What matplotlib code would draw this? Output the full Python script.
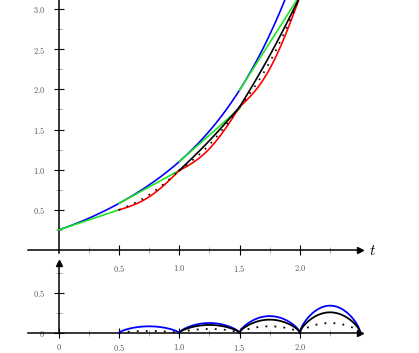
import numpy as np
import matplotlib.pyplot as plt
from numpy.polynomial import polynomial as P

plt.rcParams['mathtext.fontset'] = 'cm'

# step size and grid of the numerical scheme
h = 0.5
t_nodes = [0.0, 0.5, 1.0, 1.5, 2.0]
y_nodes = [0.25, 0.5, 0.99, 1.78, 3.15]

# exact solution (ascending polynomial coefficients)
exact_coeffs = [0.25, 0.5, 0.35, -0.12, 0.12]

# local errors per step (lower panel)
step_starts = [0.5, 1.0, 1.5, 2.0]
err_blue = [0.083, 0.124, 0.21, 0.34]
err_black = [0.0, 0.10, 0.166, 0.257]
err_dot = [0.025, 0.05, 0.083, 0.124]

# tick labels
top_xticks = [0.5, 1.0, 1.5, 2.0]
top_xlabels = ['0.5', '1.0', '1.5', '2.0']
top_yticks = [0.5, 1.0, 1.5, 2.0, 2.5, 3.0]
top_ylabels = ['0.5', '1.0', '1.5', '2.0', '2.5', '3.0']
bot_xticks = [0, 0.5, 1.0, 1.5, 2.0]
bot_xlabels = ['0', '0.5', '1.0', '1.5', '2.0']
bot_yticks = [0, 0.5]
bot_ylabels = ['0', '0.5']

BLUE, GREEN, RED = '#0000ff', '#1ee61e', '#ff0000'
LBL = '#555555'
DOTS = (0, (1, 4))


def tex(labels):
    return [f'${s}$' for s in labels]


# pixel geometry of the reference
W, H = 419, 353
x0, sx, sy = 58.5, 120.7, 80.4
split = 258
fig = plt.figure(figsize=(W / 100, H / 100), dpi=100)
ax = fig.add_axes([0, (H - split) / H, 1, split / H])
bx = fig.add_axes([0, 0, 1, (H - split) / H])

xlim = (-x0 / sx, (W - x0) / sx)
ax.set_xlim(*xlim)
ax.set_ylim((250.1 - split) / sy, 250.1 / sy)
bx.set_xlim(*xlim)
bx.set_ylim((333 - H) / sy, (333 - split) / sy)


def style_axes(a, yb, xpad):
    a.patch.set_visible(False)
    for s in ['top', 'right']:
        a.spines[s].set_visible(False)
    a.spines['left'].set_position(('data', 0))
    a.spines['bottom'].set_position(('data', 0))
    a.spines['left'].set_bounds(*yb)
    a.spines['bottom'].set_bounds(-0.25, 2.5)
    for s in ['left', 'bottom']:
        a.spines[s].set_linewidth(1.1)
    a.tick_params(which='major', direction='inout', length=7, width=0.8,
                  labelsize=6, labelcolor=LBL)
    a.tick_params(axis='y', which='major', pad=6)
    a.tick_params(axis='x', which='major', pad=xpad)
    a.tick_params(which='minor', direction='inout', length=4, width=0.7,
                  color='#aaaaaa')
    a.plot(2.5, 0, marker='>', color='k', ms=4, clip_on=False)


style_axes(ax, (-0.03, 3.3), 6)
style_axes(bx, (0, 0.87), 3)
bx.plot(0, 0.87, marker='^', color='k', ms=4, clip_on=False)

ax.set_xticks(top_xticks, tex(top_xlabels))
ax.set_xticks([0.25, 0.75, 1.25, 1.75, 2.25], minor=True)
ax.set_yticks(top_yticks, tex(top_ylabels))
ax.set_yticks([0.25, 0.75, 1.25, 1.75, 2.25, 2.75], minor=True)
bx.set_xticks(bot_xticks, tex(bot_xlabels))
bx.set_xticks([0.25, 0.75, 1.25, 1.75, 2.25], minor=True)
bx.set_yticks(bot_yticks, tex(bot_ylabels))
bx.set_yticks([0.25, 0.75], minor=True)
ax.text(2.57, 0, '$t$', fontsize=11, va='center', ha='left')

# upper panel: exact solution
t = np.linspace(0, 2.0, 400)
ax.plot(t, P.polyval(t, exact_coeffs), color=BLUE, lw=1.2, zorder=2)

# tangent (Euler) steps from the exact solution
d_coeffs = P.polyder(exact_coeffs)
for tn in t_nodes[:-1]:
    ts = np.array([tn, tn + h])
    ax.plot(ts, P.polyval(tn, exact_coeffs) + P.polyval(tn, d_coeffs) * (ts - tn),
            color=GREEN, lw=1.2, zorder=3)

# interpolants between the nodes
for i in range(3):
    a0 = step_starts[i]
    ts = np.linspace(a0, a0 + h, 80)
    s = (ts - a0) / h
    chord = y_nodes[i + 1] + (y_nodes[i + 2] - y_nodes[i + 1]) * s
    bump = np.sin(np.pi * s)
    red = chord - err_blue[i] * bump
    ax.plot(ts, red, color=RED, lw=1.2, zorder=4)
    ax.plot(ts, red + err_dot[i] * bump, color='k', lw=1.2, ls=DOTS, zorder=5)
    if err_black[i] > 0:
        ax.plot(ts, red + err_black[i] * bump, color='k', lw=1.2, zorder=6)

# lower panel: local errors
for i, a0 in enumerate(step_starts):
    ts = np.linspace(a0, a0 + h, 120)
    arc = np.sin(np.pi * (ts - a0) / h) ** 0.65
    bx.plot(ts, err_blue[i] * arc, color=BLUE, lw=1.3, zorder=3)
    if err_black[i] > 0:
        bx.plot(ts, err_black[i] * arc, color='k', lw=1.3, zorder=4)
    bx.plot(ts, err_dot[i] * arc, color='k', lw=1.3, ls=DOTS, zorder=5)

fig.savefig('out.png', dpi=100)
